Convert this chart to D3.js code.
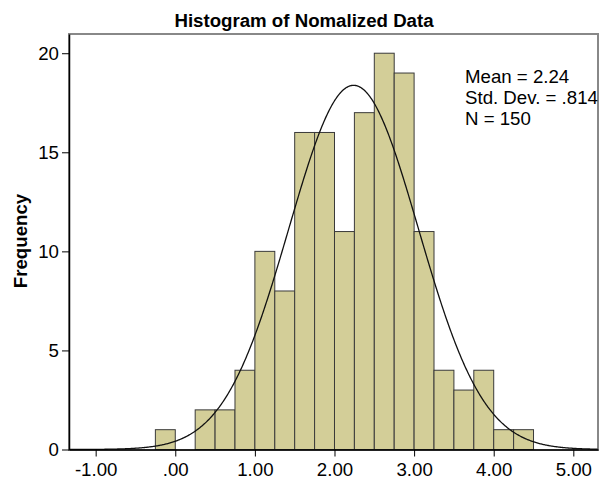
<!DOCTYPE html>
<html>
<head>
<meta charset="utf-8">
<script src="https://cdn.jsdelivr.net/npm/d3@7"></script>
<style>
  body { margin: 0; background: #fff; }
  text { font-family: "Liberation Sans", Arial, sans-serif; }
</style>
</head>
<body>
<div id="chart"></div>
<script>
// bins of width .25, starting at -0.25
var binStarts = [-0.25, 0.00, 0.25, 0.50, 0.75, 1.00, 1.25, 1.50, 1.75, 2.00, 2.25, 2.50, 2.75, 3.00, 3.25, 3.50, 3.75, 4.00, 4.25];
var counts    = [1, 0, 2, 2, 4, 10, 8, 16, 16, 11, 17, 20, 19, 11, 4, 3, 4, 1, 1];
var binWidth = 0.25;
var xTicks = [-1, 0, 1, 2, 3, 4, 5];
var yTicks = [0, 5, 10, 15, 20];
var mean = 2.24, sd = 0.814, n = 150;
var statLines = ["Mean = 2.24", "Std. Dev. = .814", "N = 150"];

var fs = "18.67px";

var margin = {top: 34, right: 2, bottom: 30, left: 69},
    width = 600 - margin.left - margin.right,
    height = 480 - margin.top - margin.bottom;

var svg = d3.select("#chart")
  .append("svg")
    .attr("width", 600)
    .attr("height", 480)
  .append("g")
    .attr("transform", "translate(" + margin.left + "," + margin.top + ")");

var x = d3.scaleLinear()
  .domain([-1.335, 5.31])
  .range([0, width]);

var y = d3.scaleLinear()
  .domain([0, 20.97])
  .range([height - 0.5, 0]);

// frame (top and right in gray)
svg.append("rect")
  .attr("x", 0).attr("y", 0)
  .attr("width", width).attr("height", height)
  .style("fill", "none")
  .style("stroke", "#888")
  .style("stroke-width", 2);

// bars
svg.append("g")
  .selectAll("rect")
  .data(binStarts)
  .enter()
  .append("rect")
    .attr("x", function(d) { return x(d); })
    .attr("y", function(d, i) { return y(counts[i]); })
    .attr("width", function(d) { return x(d + binWidth) - x(d); })
    .attr("height", function(d, i) { return y(0) - y(counts[i]); })
    .style("fill", "#d3ce98")
    .style("stroke", "#3a3a3a")
    .style("stroke-width", 1)
    .style("display", function(d, i) { return counts[i] > 0 ? null : "none"; });

// normal curve
var curvePts = d3.range(-1.335, 5.31, 0.01).map(function(v) {
  var dens = Math.exp(-0.5 * Math.pow((v - mean) / sd, 2)) / (sd * Math.sqrt(2 * Math.PI));
  return [v, dens * n * binWidth];
});
svg.append("path")
  .datum(curvePts)
  .attr("d", d3.line()
    .x(function(d) { return x(d[0]); })
    .y(function(d) { return y(d[1]); }))
  .style("fill", "none")
  .style("stroke", "#111")
  .style("stroke-width", 1.3);

// axes
var xAxis = svg.append("g")
  .attr("transform", "translate(0," + (height - 0.5) + ")")
  .call(d3.axisBottom(x).tickValues(xTicks).tickSize(7).tickPadding(0).tickSizeOuter(0)
    .tickFormat(function(d) { return d === 0 ? ".00" : d3.format(".2f")(d).replace("−", "-"); }));
xAxis.select(".domain").style("stroke", "#000").style("stroke-width", 1.5);
xAxis.selectAll("text").style("font-size", fs).attr("y", 26).attr("dy", null).style("fill", "#000");

var yAxis = svg.append("g")
  .call(d3.axisLeft(y).tickValues(yTicks).tickSize(7).tickPadding(3).tickSizeOuter(0));
yAxis.select(".domain").style("stroke", "#000").style("stroke-width", 1.5);
yAxis.selectAll("text").style("font-size", fs).style("fill", "#000");

// title
svg.append("text")
  .attr("x", 304 - margin.left)
  .attr("y", 27 - margin.top)
  .attr("text-anchor", "middle")
  .style("font-size", fs)
  .style("font-weight", "bold")
  .text("Histogram of Nomalized Data");

// y label
svg.append("text")
  .attr("transform", "rotate(-90)")
  .attr("x", -(241 - margin.top))
  .attr("y", 27 - margin.left)
  .attr("text-anchor", "middle")
  .style("font-size", fs)
  .style("font-weight", "bold")
  .text("Frequency");

// stats
svg.append("g")
  .selectAll("text")
  .data(statLines)
  .enter()
  .append("text")
    .attr("x", 465 - margin.left)
    .attr("y", function(d, i) { return 82.5 - margin.top + i * 21; })
    .style("font-size", fs)
    .text(function(d) { return d; });
</script>
</body>
</html>
